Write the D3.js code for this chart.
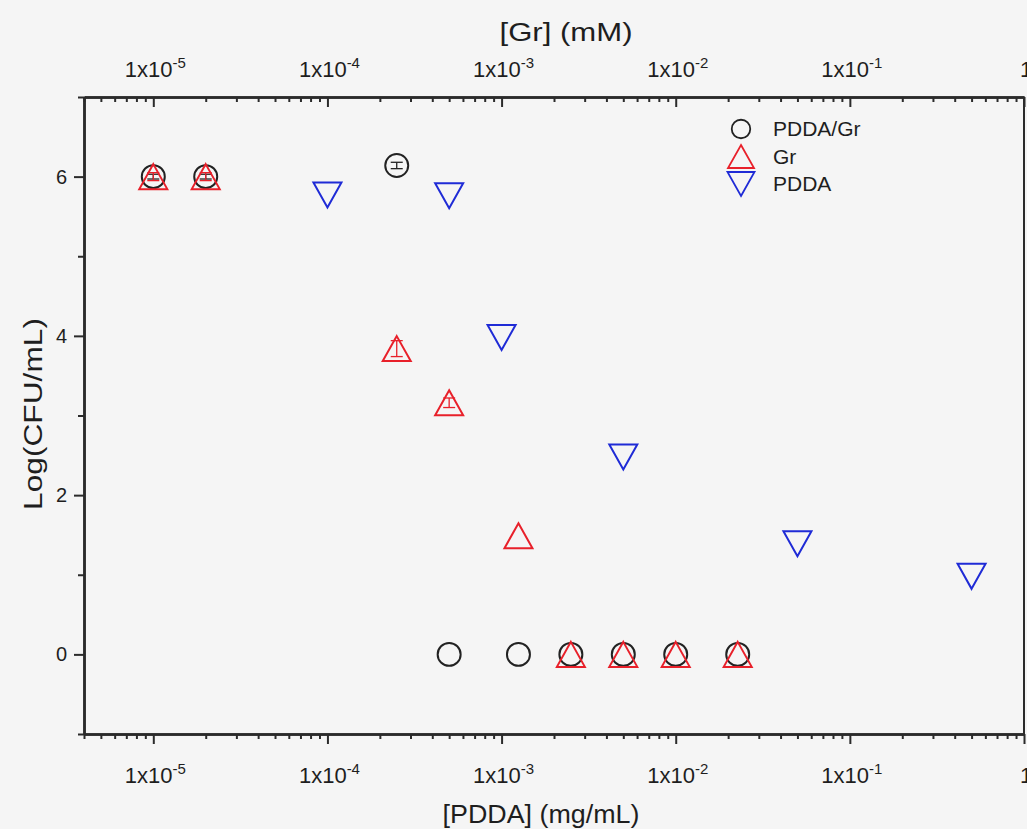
<!DOCTYPE html>
<html>
<head>
<meta charset="utf-8">
<script src="https://cdn.jsdelivr.net/npm/d3@7"></script>
<style>
  body { margin: 0; background: #f5f5f5; }
  svg { display: block; font-family: "Liberation Sans", Arial, sans-serif; }
</style>
</head>
<body>
<script>
// size of page
const w = 1027;
const h = 829;

// data (x in mg/mL on the bottom axis)
const pddaGrX = [1e-5, 2e-5, 2.5e-4, 5e-4, 1.25e-3, 2.5e-3, 5e-3, 1e-2, 2.27e-2];
const pddaGrY = [6.0, 6.0, 6.14, 0, 0, 0, 0, 0, 0];
const pddaGrErr = [0.03, 0.03, 0.04, 0, 0, 0, 0, 0, 0];

const grX = [1e-5, 2e-5, 2.5e-4, 5e-4, 1.25e-3, 2.5e-3, 5e-3, 1e-2, 2.27e-2];
const grY = [6.0, 6.0, 3.84, 3.16, 1.49, 0, 0, 0, 0];
const grErr = [0.05, 0.05, 0.1, 0.06, 0, 0, 0, 0, 0];

const pddaX = [1e-4, 5e-4, 1e-3, 5e-3, 5e-2, 5e-1];
const pddaY = [5.77, 5.76, 3.98, 2.48, 1.39, 0.98];

const xMajor = [1e-5, 1e-4, 1e-3, 1e-2, 1e-1, 1];
const xMajorExp = ["-5", "-4", "-3", "-2", "-1", ""];
const yMajor = [0, 2, 4, 6];
const yMinor = [-1, 1, 3, 5, 7];

const legendNames = ["PDDA/Gr", "Gr", "PDDA"];

const plotLeft = 84, plotRight = 1024, plotTop = 97, plotBottom = 734;

const xScale = d3.scaleLog().domain([4e-6, 1]).range([plotLeft, plotRight]);
const yScale = d3.scaleLinear().domain([-1, 7]).range([plotBottom, plotTop]);

// minor ticks 2..9 of each decade inside the domain
var xMinor = [];
for (var e = -6; e < 0; e++) {
    for (var m = 2; m <= 9; m++) {
        var v = m * Math.pow(10, e);
        if (v >= 4e-6 && v < 1) xMinor.push(v);
    }
}

const svg = d3.select("body")
            .append("svg")
            .attr("width", w)
            .attr("height", h);

const axisColor = "#2b2b2b";
const textColor = "#1e1e1e";

// bottom axis, ticks outward
svg.append("g")
    .attr("transform", "translate(0," + plotBottom + ")")
    .call(d3.axisBottom(xScale).tickValues(xMinor).tickSizeInner(5).tickSizeOuter(0).tickFormat(""));
svg.append("g")
    .attr("transform", "translate(0," + plotBottom + ")")
    .call(d3.axisBottom(xScale).tickValues(xMajor).tickSizeInner(10).tickSizeOuter(0).tickFormat(""));

// top axis, ticks pointing into the plot
svg.append("g")
    .attr("transform", "translate(0," + plotTop + ")")
    .call(d3.axisTop(xScale).tickValues(xMinor).tickSizeInner(-5).tickSizeOuter(0).tickFormat(""));
svg.append("g")
    .attr("transform", "translate(0," + plotTop + ")")
    .call(d3.axisTop(xScale).tickValues(xMajor).tickSizeInner(-10).tickSizeOuter(0).tickFormat(""));

// left axis
svg.append("g")
    .attr("transform", "translate(" + plotLeft + ",0)")
    .call(d3.axisLeft(yScale).tickValues(yMinor).tickSizeInner(6).tickSizeOuter(0).tickFormat(""));
const yAx = svg.append("g")
    .attr("transform", "translate(" + plotLeft + ",0)")
    .call(d3.axisLeft(yScale).tickValues(yMajor).tickSizeInner(10).tickSizeOuter(0).tickPadding(7));
yAx.selectAll("text").attr("font-size", "20px").attr("font-family", "Liberation Sans, Arial, sans-serif").attr("fill", textColor);

// right frame line
svg.append("line")
    .attr("x1", plotRight).attr("x2", plotRight)
    .attr("y1", plotTop).attr("y2", plotBottom)
    .attr("stroke", axisColor).attr("stroke-width", 2);

svg.selectAll(".domain").attr("stroke", axisColor).attr("stroke-width", 2.5);
svg.selectAll(".tick line").attr("stroke", axisColor).attr("stroke-width", 2);

// x tick labels with superscript
function xLabels(yPos) {
    svg.append("g")
        .selectAll("text")
        .data(xMajor)
        .join("text")
        .attr("x", (d) => xScale(d) + 2)
        .attr("y", yPos)
        .attr("text-anchor", "middle")
        .attr("font-size", "22px")
        .attr("fill", textColor)
        .each(function(d, i) {
            var t = d3.select(this);
            if (xMajorExp[i] === "") {
                t.text("1");
                return;
            }
            t.append("tspan").text("1x10");
            t.append("tspan").text(xMajorExp[i])
                .attr("font-size", "15px")
                .attr("dy", -9);
        });
}
xLabels(77);
xLabels(783);

// axis titles
svg.append("text")
    .attr("x", 541).attr("y", 823)
    .attr("text-anchor", "middle")
    .attr("font-size", "26px")
    .attr("textLength", 197)
    .attr("lengthAdjust", "spacingAndGlyphs")
    .attr("fill", textColor)
    .text("[PDDA] (mg/mL)");

svg.append("text")
    .attr("x", 566).attr("y", 41)
    .attr("text-anchor", "middle")
    .attr("font-size", "26px")
    .attr("textLength", 133)
    .attr("lengthAdjust", "spacingAndGlyphs")
    .attr("fill", textColor)
    .text("[Gr] (mM)");

svg.append("text")
    .attr("transform", "translate(42,414) rotate(-90)")
    .attr("text-anchor", "middle")
    .attr("font-size", "26px")
    .attr("textLength", 192)
    .attr("lengthAdjust", "spacingAndGlyphs")
    .attr("fill", textColor)
    .text("Log(CFU/mL)");

// markers
const circleSym = d3.symbol().type(d3.symbolCircle).size(415);
function triUp(wd, ht) {
    // triangle with centre of its box at 0,0
    return "M0," + (-ht / 2) + "L" + (wd / 2) + "," + (ht / 2) + "L" + (-wd / 2) + "," + (ht / 2) + "Z";
}
function triDown(wd, ht) {
    return "M0," + (ht / 2) + "L" + (wd / 2) + "," + (-ht / 2) + "L" + (-wd / 2) + "," + (-ht / 2) + "Z";
}

function errBars(xs, ys, errs, color) {
    const g = svg.append("g").attr("stroke", color).attr("stroke-width", 1.3);
    xs.forEach(function(x, i) {
        if (!errs[i]) return;
        var cx = xScale(x), y1 = yScale(ys[i] - errs[i]), y2 = yScale(ys[i] + errs[i]);
        g.append("line").attr("x1", cx).attr("x2", cx).attr("y1", y1).attr("y2", y2);
        g.append("line").attr("x1", cx - 6).attr("x2", cx + 6).attr("y1", y1).attr("y2", y1);
        g.append("line").attr("x1", cx - 6).attr("x2", cx + 6).attr("y1", y2).attr("y2", y2);
    });
}

// PDDA/Gr circles
svg.append("g")
    .selectAll("path")
    .data(pddaGrX)
    .join("path")
    .attr("d", circleSym)
    .attr("transform", (d, i) => "translate(" + xScale(d) + "," + yScale(pddaGrY[i]) + ")")
    .attr("fill", "none")
    .attr("stroke", "#222")
    .attr("stroke-width", 2);
errBars(pddaGrX, pddaGrY, pddaGrErr, "#222");

// Gr triangles
svg.append("g")
    .selectAll("path")
    .data(grX)
    .join("path")
    .attr("d", triUp(28, 25))
    .attr("transform", (d, i) => "translate(" + xScale(d) + "," + yScale(grY[i]) + ")")
    .attr("fill", "none")
    .attr("stroke", "#e8202a")
    .attr("stroke-width", 2);
errBars(grX, grY, grErr, "#e8202a");

// PDDA down triangles
svg.append("g")
    .selectAll("path")
    .data(pddaX)
    .join("path")
    .attr("d", triDown(28, 25))
    .attr("transform", (d, i) => "translate(" + xScale(d) + "," + yScale(pddaY[i]) + ")")
    .attr("fill", "none")
    .attr("stroke", "#1f2bd6")
    .attr("stroke-width", 2);

// legend
const legend = svg.append("g").attr("transform", "translate(741,129)");
const legendMarks = [d3.symbol().type(d3.symbolCircle).size(270)(), triUp(26, 23), triDown(27, 24)];
const legendColors = ["#222", "#e8202a", "#1f2bd6"];
legendNames.forEach(function(name, i) {
    legend.append("path")
        .attr("d", legendMarks[i])
        .attr("transform", "translate(0," + (i * 27.5) + ")")
        .attr("fill", "none")
        .attr("stroke", legendColors[i])
        .attr("stroke-width", 1.8);
    legend.append("text")
        .attr("x", 32).attr("y", i * 27.5 + 7)
        .attr("font-size", "21px")
        .attr("fill", textColor)
        .text(name);
});
</script>
</body>
</html>
